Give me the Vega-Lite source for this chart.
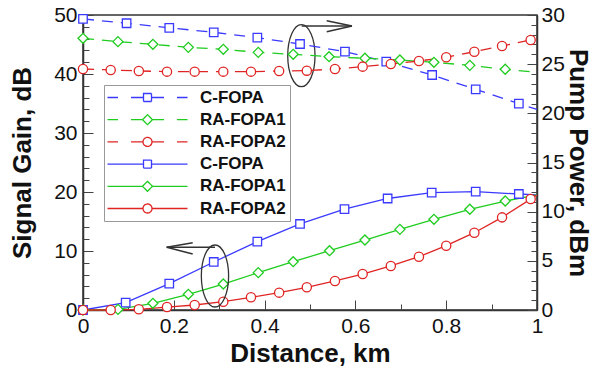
{
  "$schema": "https://vega.github.io/schema/vega-lite/v6.json",
  "width": 454,
  "height": 295,
  "autosize": {"type": "none"},
  "padding": {"left": 83, "top": 15, "right": 60, "bottom": 61},
  "background": "white",
  "config": {
    "font": "Liberation Sans",
    "view": {"stroke": "#333", "strokeWidth": 1.5},
    "axis": {
      "grid": false,
      "domainColor": "#333",
      "domainWidth": 1.5,
      "tickColor": "#444",
      "tickWidth": 1,
      "labelFontSize": 21,
      "labelColor": "#111",
      "labelFlush": false,
      "labelOverlap": false,
      "titleFontSize": 26,
      "titleFontWeight": "bold",
      "titleColor": "#111"
    },
    "legend": {
      "orient": "none", "legendX": 21, "legendY": 70, "title": null,
      "labelFont": "Liberation Sans", "labelFontWeight": "bold", "labelFontSize": 17, "labelColor": "#111",
      "strokeColor": "#999", "fillColor": "white", "padding": 4, "rowPadding": 4.2,
      "symbolSize": 100, "symbolStrokeWidth": 1.3, "symbolOffset": 31, "labelOffset": 44,
      "symbolFillColor": "white", "symbolDash": [1, 0], "symbolOpacity": 1
    }
  },
  "datasets": {
    "curves": [
      {"series": "C-FOPA pump", "kind": "pump", "x": 0, "v": 29.6},
      {"series": "C-FOPA pump", "kind": "pump", "x": 0.096, "v": 29.16},
      {"series": "C-FOPA pump", "kind": "pump", "x": 0.19, "v": 28.7},
      {"series": "C-FOPA pump", "kind": "pump", "x": 0.288, "v": 28.24},
      {"series": "C-FOPA pump", "kind": "pump", "x": 0.384, "v": 27.7},
      {"series": "C-FOPA pump", "kind": "pump", "x": 0.478, "v": 27.05},
      {"series": "C-FOPA pump", "kind": "pump", "x": 0.577, "v": 26.27},
      {"series": "C-FOPA pump", "kind": "pump", "x": 0.668, "v": 25.25},
      {"series": "C-FOPA pump", "kind": "pump", "x": 0.769, "v": 23.9},
      {"series": "C-FOPA pump", "kind": "pump", "x": 0.865, "v": 22.44},
      {"series": "C-FOPA pump", "kind": "pump", "x": 0.96, "v": 20.98},
      {"series": "C-FOPA pump", "kind": "pump", "x": 1.0, "v": 20.4},
      {"series": "RA-FOPA1 pump", "kind": "pump", "x": 0, "v": 27.63},
      {"series": "RA-FOPA1 pump", "kind": "pump", "x": 0.077, "v": 27.29},
      {"series": "RA-FOPA1 pump", "kind": "pump", "x": 0.154, "v": 27.02},
      {"series": "RA-FOPA1 pump", "kind": "pump", "x": 0.232, "v": 26.71},
      {"series": "RA-FOPA1 pump", "kind": "pump", "x": 0.309, "v": 26.51},
      {"series": "RA-FOPA1 pump", "kind": "pump", "x": 0.386, "v": 26.2},
      {"series": "RA-FOPA1 pump", "kind": "pump", "x": 0.463, "v": 26.0},
      {"series": "RA-FOPA1 pump", "kind": "pump", "x": 0.542, "v": 25.76},
      {"series": "RA-FOPA1 pump", "kind": "pump", "x": 0.621, "v": 25.6},
      {"series": "RA-FOPA1 pump", "kind": "pump", "x": 0.698, "v": 25.42},
      {"series": "RA-FOPA1 pump", "kind": "pump", "x": 0.773, "v": 25.19},
      {"series": "RA-FOPA1 pump", "kind": "pump", "x": 0.852, "v": 24.88},
      {"series": "RA-FOPA1 pump", "kind": "pump", "x": 0.93, "v": 24.48},
      {"series": "RA-FOPA1 pump", "kind": "pump", "x": 1.0, "v": 24.17},
      {"series": "RA-FOPA2 pump", "kind": "pump", "x": 0, "v": 24.51},
      {"series": "RA-FOPA2 pump", "kind": "pump", "x": 0.061, "v": 24.41},
      {"series": "RA-FOPA2 pump", "kind": "pump", "x": 0.123, "v": 24.31},
      {"series": "RA-FOPA2 pump", "kind": "pump", "x": 0.185, "v": 24.24},
      {"series": "RA-FOPA2 pump", "kind": "pump", "x": 0.246, "v": 24.24},
      {"series": "RA-FOPA2 pump", "kind": "pump", "x": 0.309, "v": 24.24},
      {"series": "RA-FOPA2 pump", "kind": "pump", "x": 0.37, "v": 24.24},
      {"series": "RA-FOPA2 pump", "kind": "pump", "x": 0.432, "v": 24.31},
      {"series": "RA-FOPA2 pump", "kind": "pump", "x": 0.493, "v": 24.34},
      {"series": "RA-FOPA2 pump", "kind": "pump", "x": 0.555, "v": 24.51},
      {"series": "RA-FOPA2 pump", "kind": "pump", "x": 0.616, "v": 24.75},
      {"series": "RA-FOPA2 pump", "kind": "pump", "x": 0.678, "v": 25.02},
      {"series": "RA-FOPA2 pump", "kind": "pump", "x": 0.74, "v": 25.32},
      {"series": "RA-FOPA2 pump", "kind": "pump", "x": 0.8, "v": 25.7},
      {"series": "RA-FOPA2 pump", "kind": "pump", "x": 0.862, "v": 26.27},
      {"series": "RA-FOPA2 pump", "kind": "pump", "x": 0.923, "v": 26.85},
      {"series": "RA-FOPA2 pump", "kind": "pump", "x": 0.986, "v": 27.46},
      {"series": "RA-FOPA2 pump", "kind": "pump", "x": 1.0, "v": 27.6},
      {"series": "C-FOPA gain", "kind": "gain", "x": 0, "v": 0},
      {"series": "C-FOPA gain", "kind": "gain", "x": 0.094, "v": 1.24},
      {"series": "C-FOPA gain", "kind": "gain", "x": 0.19, "v": 4.46},
      {"series": "C-FOPA gain", "kind": "gain", "x": 0.288, "v": 8.14},
      {"series": "C-FOPA gain", "kind": "gain", "x": 0.384, "v": 11.58},
      {"series": "C-FOPA gain", "kind": "gain", "x": 0.478, "v": 14.58},
      {"series": "C-FOPA gain", "kind": "gain", "x": 0.576, "v": 17.1},
      {"series": "C-FOPA gain", "kind": "gain", "x": 0.671, "v": 18.9},
      {"series": "C-FOPA gain", "kind": "gain", "x": 0.768, "v": 19.9},
      {"series": "C-FOPA gain", "kind": "gain", "x": 0.865, "v": 20.05},
      {"series": "C-FOPA gain", "kind": "gain", "x": 0.96, "v": 19.66},
      {"series": "C-FOPA gain", "kind": "gain", "x": 1.0, "v": 19.5},
      {"series": "RA-FOPA1 gain", "kind": "gain", "x": 0, "v": 0},
      {"series": "RA-FOPA1 gain", "kind": "gain", "x": 0.077, "v": 0.1},
      {"series": "RA-FOPA1 gain", "kind": "gain", "x": 0.154, "v": 1.13},
      {"series": "RA-FOPA1 gain", "kind": "gain", "x": 0.232, "v": 2.66},
      {"series": "RA-FOPA1 gain", "kind": "gain", "x": 0.309, "v": 4.4},
      {"series": "RA-FOPA1 gain", "kind": "gain", "x": 0.386, "v": 6.33},
      {"series": "RA-FOPA1 gain", "kind": "gain", "x": 0.463, "v": 8.19},
      {"series": "RA-FOPA1 gain", "kind": "gain", "x": 0.543, "v": 10.05},
      {"series": "RA-FOPA1 gain", "kind": "gain", "x": 0.621, "v": 11.86},
      {"series": "RA-FOPA1 gain", "kind": "gain", "x": 0.698, "v": 13.67},
      {"series": "RA-FOPA1 gain", "kind": "gain", "x": 0.773, "v": 15.37},
      {"series": "RA-FOPA1 gain", "kind": "gain", "x": 0.852, "v": 17.07},
      {"series": "RA-FOPA1 gain", "kind": "gain", "x": 0.93, "v": 18.47},
      {"series": "RA-FOPA1 gain", "kind": "gain", "x": 1.0, "v": 19.5},
      {"series": "RA-FOPA2 gain", "kind": "gain", "x": 0, "v": 0},
      {"series": "RA-FOPA2 gain", "kind": "gain", "x": 0.061, "v": 0},
      {"series": "RA-FOPA2 gain", "kind": "gain", "x": 0.123, "v": 0.12},
      {"series": "RA-FOPA2 gain", "kind": "gain", "x": 0.185, "v": 0.5},
      {"series": "RA-FOPA2 gain", "kind": "gain", "x": 0.246, "v": 0.85},
      {"series": "RA-FOPA2 gain", "kind": "gain", "x": 0.309, "v": 1.41},
      {"series": "RA-FOPA2 gain", "kind": "gain", "x": 0.37, "v": 2.15},
      {"series": "RA-FOPA2 gain", "kind": "gain", "x": 0.432, "v": 2.94},
      {"series": "RA-FOPA2 gain", "kind": "gain", "x": 0.493, "v": 3.85},
      {"series": "RA-FOPA2 gain", "kind": "gain", "x": 0.555, "v": 4.92},
      {"series": "RA-FOPA2 gain", "kind": "gain", "x": 0.616, "v": 6.1},
      {"series": "RA-FOPA2 gain", "kind": "gain", "x": 0.678, "v": 7.46},
      {"series": "RA-FOPA2 gain", "kind": "gain", "x": 0.74, "v": 9.03},
      {"series": "RA-FOPA2 gain", "kind": "gain", "x": 0.8, "v": 10.9},
      {"series": "RA-FOPA2 gain", "kind": "gain", "x": 0.862, "v": 13.1},
      {"series": "RA-FOPA2 gain", "kind": "gain", "x": 0.923, "v": 15.7},
      {"series": "RA-FOPA2 gain", "kind": "gain", "x": 0.986, "v": 18.8},
      {"series": "RA-FOPA2 gain", "kind": "gain", "x": 1.0, "v": 19.5}
    ],
    "ellipses": [
      {"x": 0.481, "y": 43.1},
      {"x": 0.2907, "y": 5.76}
    ],
    "arrows": [
      {"x": 0.4817, "y": 48.14, "x2": 0.5925, "y2": 48.14},
      {"x": 0.5368, "y": 49.03, "x2": 0.5925, "y2": 48.14},
      {"x": 0.5368, "y": 47.17, "x2": 0.5925, "y2": 48.14},
      {"x": 0.2907, "y": 10.63, "x2": 0.1844, "y2": 10.63},
      {"x": 0.2416, "y": 11.4, "x2": 0.1844, "y2": 10.63},
      {"x": 0.2416, "y": 9.49, "x2": 0.1844, "y2": 10.63}
    ]
  },
  "layer": [
    {
      "layer": [
        {
          "data": {"name": "curves"},
          "transform": [{"filter": "datum.kind == 'gain'"}],
          "mark": {"type": "line", "strokeWidth": 1.3},
          "encoding": {
            "x": {"field": "x", "type": "quantitative", "scale": {"domain": [0, 1], "nice": false},
              "axis": {"orient": "bottom", "values": [0, 0.2, 0.4, 0.6, 0.8, 1], "format": "~g", "tickSize": -10, "labelPadding": 15, "title": "Distance, km", "titlePadding": 4}},
            "y": {"field": "v", "type": "quantitative", "scale": {"domain": [0, 50], "nice": false},
              "axis": {"orient": "left", "values": [0, 10, 20, 30, 40, 50], "tickSize": -10, "labelPadding": 16, "title": "Signal Gain, dB", "titlePadding": 18}},
            "stroke": {"field": "series", "type": "nominal",
              "scale": {"domain": ["C-FOPA pump", "RA-FOPA1 pump", "RA-FOPA2 pump", "C-FOPA gain", "RA-FOPA1 gain", "RA-FOPA2 gain"],
                        "range": ["#3a3aff", "#1fcc1f", "#e02424", "#3a3aff", "#1fcc1f", "#e02424"]},
              "legend": {"title": null, "labelExpr": "split(datum.label, ' ')[0]"}}
          }
        },
        {
          "data": {"name": "curves"},
          "transform": [{"filter": "false"}],
          "mark": {"type": "point", "filled": true, "fill": "white", "strokeWidth": 1.3, "opacity": 1},
          "encoding": {
            "x": {"field": "x", "type": "quantitative", "scale": {"domain": [0, 1], "nice": false}},
            "y": {"field": "v", "type": "quantitative", "scale": {"domain": [0, 50], "nice": false}, "axis": null},
            "stroke": {"field": "series", "type": "nominal", "legend": {"title": null, "labelExpr": "split(datum.label, ' ')[0]"}},
            "shape": {"field": "series", "type": "nominal",
              "legend": {"title": null, "labelExpr": "split(datum.label, ' ')[0]"},
              "scale": {"domain": ["C-FOPA pump", "RA-FOPA1 pump", "RA-FOPA2 pump", "C-FOPA gain", "RA-FOPA1 gain", "RA-FOPA2 gain"],
                        "range": [
                          "M-8,0H-5.9M-3.3,0H-0.8M0.8,0H3.3M5.9,0H8M-0.8,-0.8H0.8V0.8H-0.8Z",
                          "M-8,0H-5.9M-3.3,0H-1M1,0H3.3M5.9,0H8M0,-1L1,0L0,1L-1,0Z",
                          "M-8,0H-5.9M-3.3,0H-0.9M0.9,0H3.3M5.9,0H8M0.9,0C0.9,0.5 0.5,0.9 0,0.9C-0.5,0.9 -0.9,0.5 -0.9,0C-0.9,-0.5 -0.5,-0.9 0,-0.9C0.5,-0.9 0.9,-0.5 0.9,0Z",
                          "M-8,0H-0.8M0.8,0H8M-0.8,-0.8H0.8V0.8H-0.8Z",
                          "M-8,0H-1M1,0H8M0,-1L1,0L0,1L-1,0Z",
                          "M-8,0H-0.9M0.9,0H8M0.9,0C0.9,0.5 0.5,0.9 0,0.9C-0.5,0.9 -0.9,0.5 -0.9,0C-0.9,-0.5 -0.5,-0.9 0,-0.9C0.5,-0.9 0.9,-0.5 0.9,0Z"
                        ]}}
          }
        },
        {
          "data": {"name": "curves"},
          "transform": [{"filter": "datum.kind == 'gain' && datum.x < 1 && indexof(datum.series, 'C-FOPA') == 0"}],
          "mark": {"type": "point", "shape": "square", "filled": true, "fill": "white", "strokeWidth": 1.3, "size": 72, "opacity": 1},
          "encoding": {
            "x": {"field": "x", "type": "quantitative", "scale": {"domain": [0, 1], "nice": false}},
            "y": {"field": "v", "type": "quantitative", "scale": {"domain": [0, 50], "nice": false},
              "axis": {"orient": "left", "values": [2, 4, 6, 8, 12, 14, 16, 18, 22, 24, 26, 28, 32, 34, 36, 38, 42, 44, 46, 48], "tickSize": -6, "labels": false, "domain": false, "title": null}},
            "stroke": {"field": "series", "type": "nominal"}
          }
        },
        {
          "data": {"name": "curves"},
          "transform": [{"filter": "datum.kind == 'gain' && datum.x < 1 && indexof(datum.series, 'FOPA1') >= 0"}],
          "mark": {"type": "point", "shape": "diamond", "filled": true, "fill": "white", "strokeWidth": 1.3, "size": 100, "opacity": 1},
          "encoding": {
            "x": {"field": "x", "type": "quantitative", "scale": {"domain": [0, 1], "nice": false}},
            "y": {"field": "v", "type": "quantitative", "scale": {"domain": [0, 50], "nice": false}, "axis": null},
            "stroke": {"field": "series", "type": "nominal"}
          }
        },
        {
          "data": {"name": "curves"},
          "transform": [{"filter": "datum.kind == 'gain' && datum.x < 1 && indexof(datum.series, 'FOPA2') >= 0"}],
          "mark": {"type": "point", "shape": "circle", "filled": true, "fill": "white", "strokeWidth": 1.3, "size": 85, "opacity": 1},
          "encoding": {
            "x": {"field": "x", "type": "quantitative", "scale": {"domain": [0, 1], "nice": false}},
            "y": {"field": "v", "type": "quantitative", "scale": {"domain": [0, 50], "nice": false}, "axis": null},
            "stroke": {"field": "series", "type": "nominal"}
          }
        },
        {
          "data": {"name": "ellipses"},
          "mark": {"type": "point", "filled": false, "color": "#333", "strokeWidth": 1.3, "size": 3844, "opacity": 1,
            "shape": "M0.44,0C0.44,0.552 0.243,1 0,1C-0.243,1 -0.44,0.552 -0.44,0C-0.44,-0.552 -0.243,-1 0,-1C0.243,-1 0.44,-0.552 0.44,0Z"},
          "encoding": {
            "x": {"field": "x", "type": "quantitative", "scale": {"domain": [0, 1], "nice": false}},
            "y": {"field": "y", "type": "quantitative", "scale": {"domain": [0, 50], "nice": false}, "axis": null}
          }
        },
        {
          "data": {"name": "arrows"},
          "mark": {"type": "rule", "color": "#333", "strokeWidth": 1.5},
          "encoding": {
            "x": {"field": "x", "type": "quantitative", "scale": {"domain": [0, 1], "nice": false}},
            "y": {"field": "y", "type": "quantitative", "scale": {"domain": [0, 50], "nice": false}, "axis": null},
            "x2": {"field": "x2"},
            "y2": {"field": "y2"}
          }
        }
      ],
      "resolve": {"axis": {"y": "independent"}}
    },
    {
      "layer": [
        {
          "data": {"name": "curves"},
          "transform": [{"filter": "datum.kind == 'pump'"}],
          "mark": {"type": "line", "strokeWidth": 1.3, "strokeDash": [11, 8]},
          "encoding": {
            "x": {"field": "x", "type": "quantitative", "scale": {"domain": [0, 1], "nice": false},
              "axis": {"orient": "bottom", "values": [0.1, 0.3, 0.5, 0.7, 0.9], "tickSize": -6, "labels": false, "domain": false, "title": null}},
            "y": {"field": "v", "type": "quantitative", "scale": {"domain": [0, 30], "nice": false},
              "axis": {"orient": "right", "values": [0, 5, 10, 15, 20, 25, 30], "tickSize": -10, "labelPadding": 14, "title": "Pump Power, dBm", "titlePadding": 0}},
            "stroke": {"field": "series", "type": "nominal"}
          }
        },
        {
          "data": {"name": "curves"},
          "transform": [{"filter": "datum.kind == 'pump' && datum.x < 1 && indexof(datum.series, 'C-FOPA') == 0"}],
          "mark": {"type": "point", "shape": "square", "filled": true, "fill": "white", "strokeWidth": 1.3, "size": 72, "opacity": 1},
          "encoding": {
            "x": {"field": "x", "type": "quantitative", "scale": {"domain": [0, 1], "nice": false}},
            "y": {"field": "v", "type": "quantitative", "scale": {"domain": [0, 30], "nice": false},
              "axis": {"orient": "right", "values": [1, 2, 3, 4, 6, 7, 8, 9, 11, 12, 13, 14, 16, 17, 18, 19, 21, 22, 23, 24, 26, 27, 28, 29], "tickSize": -6, "labels": false, "domain": false, "title": null}},
            "stroke": {"field": "series", "type": "nominal"}
          }
        },
        {
          "data": {"name": "curves"},
          "transform": [{"filter": "datum.kind == 'pump' && datum.x < 1 && indexof(datum.series, 'FOPA1') >= 0"}],
          "mark": {"type": "point", "shape": "diamond", "filled": true, "fill": "white", "strokeWidth": 1.3, "size": 100, "opacity": 1},
          "encoding": {
            "x": {"field": "x", "type": "quantitative", "scale": {"domain": [0, 1], "nice": false}},
            "y": {"field": "v", "type": "quantitative", "scale": {"domain": [0, 30], "nice": false}, "axis": null},
            "stroke": {"field": "series", "type": "nominal"}
          }
        },
        {
          "data": {"name": "curves"},
          "transform": [{"filter": "datum.kind == 'pump' && datum.x < 1 && indexof(datum.series, 'FOPA2') >= 0"}],
          "mark": {"type": "point", "shape": "circle", "filled": true, "fill": "white", "strokeWidth": 1.3, "size": 85, "opacity": 1},
          "encoding": {
            "x": {"field": "x", "type": "quantitative", "scale": {"domain": [0, 1], "nice": false}},
            "y": {"field": "v", "type": "quantitative", "scale": {"domain": [0, 30], "nice": false}, "axis": null},
            "stroke": {"field": "series", "type": "nominal"}
          }
        }
      ],
      "resolve": {"axis": {"y": "independent"}}
    }
  ],
  "resolve": {"scale": {"y": "independent"}, "axis": {"x": "independent", "y": "independent"}}
}
